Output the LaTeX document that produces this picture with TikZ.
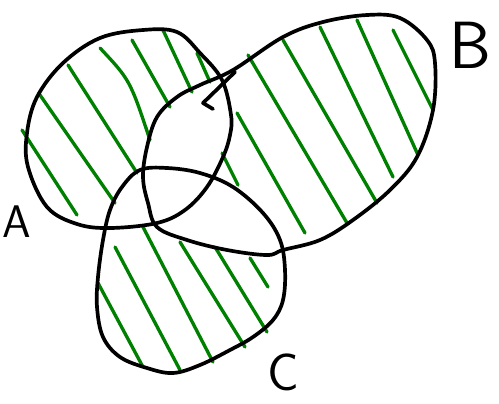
\documentclass[tikz,border=0pt]{standalone}
\usepackage{tikz}

\definecolor{hatchgreen}{RGB}{0,128,0}

\begin{document}
\begin{tikzpicture}[
  x=0.02cm, y=-0.02cm,
  outline/.style={draw=black, line width=2.1pt, line join=round, line cap=round},
  hatch/.style={draw=hatchgreen, line width=1.9pt, line cap=round},
  setlabel/.style={inner sep=0pt, text=black, font=\sffamily}
]
  \useasboundingbox (0,0) rectangle (499,403);

  % hatching, only the parts of one set
  \draw[hatch] (22,130) -- (77,215);
  \draw[hatch] (40,95) -- (115,203);
  \draw[hatch] (68,65) -- (137,173);
  \draw[hatch] (100,48) .. controls (130,80) .. (150,140);
  \draw[hatch] (132,40) -- (170,107);
  \draw[hatch] (163,30) -- (192,92);
  \draw[hatch] (197,53) -- (210,82);

  \draw[hatch] (237,113) -- (305,233);
  \draw[hatch] (222,153) -- (238,185);
  \draw[hatch] (248,55) -- (347,223);
  \draw[hatch] (283,40) -- (377,203);
  \draw[hatch] (320,27) -- (393,177);
  \draw[hatch] (357,20) -- (418,155);
  \draw[hatch] (393,30) -- (433,110);

  \draw[hatch] (98,283) -- (143,367);
  \draw[hatch] (115,247) -- (180,370);
  \draw[hatch] (143,227) -- (213,362);
  \draw[hatch] (180,242) -- (245,347);
  \draw[hatch] (215,247) -- (267,332);
  \draw[hatch] (250,258) -- (268,287);

  % set A
  \draw[outline] plot[smooth cycle, tension=0.6] coordinates {
    (63,63) (100,38) (143,30) (177,32) (200,53) (222,80) (231,115)
    (230,135) (223,157) (207,187) (185,210) (157,223) (110,228)
    (77,224) (47,207) (28,167) (27,133) (37,97)};

  % set B
  \draw[outline] plot[smooth cycle, tension=0.6] coordinates {
    (233,70) (283,37) (323,22) (367,15) (400,18) (427,40) (435,63)
    (433,110) (417,157) (390,190) (353,220) (320,240) (283,250)
    (267,255) (227,250) (187,240) (157,227) (148,203) (143,177)
    (147,147) (157,117) (177,97) (200,85)};
  \draw[outline] (235,72) -- (203,103) -- (213,109);

  % set C
  \draw[outline] plot[smooth cycle, tension=0.6] coordinates {
    (140,170) (167,168) (200,173) (233,187) (263,213) (280,240)
    (285,270) (283,300) (273,320) (253,337) (230,350) (200,365)
    (173,373) (147,368) (120,357) (103,337) (97,307) (98,277)
    (103,240) (110,210) (122,187)};

  \node[setlabel, font=\sffamily\fontsize{26}{26}\selectfont] (labA) at (17,222) {A};
  \node[setlabel, font=\sffamily\fontsize{38}{38}\selectfont] (labB) at (470,45) {B};
  \node[setlabel, font=\sffamily\fontsize{30}{30}\selectfont] (labC) at (283,372) {C};
\end{tikzpicture}
\end{document}
